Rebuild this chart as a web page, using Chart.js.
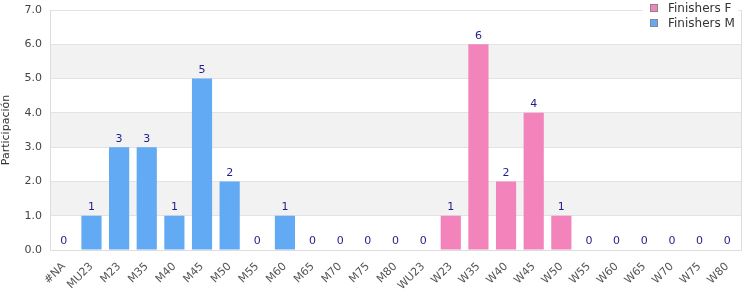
<!DOCTYPE html>
<html><head><meta charset="utf-8">
<script src="https://cdn.jsdelivr.net/npm/chart.js@4/dist/chart.umd.min.js"></script>
<style>
html,body{margin:0;padding:0;background:#fff;font-family:"DejaVu Sans","Bitstream Vera Sans","Noto Sans",sans-serif;}
#wrap{position:relative;width:750px;height:300px;}
#legend{position:absolute;left:643px;top:0;width:95px;height:13px;background:#fff;font-family:"DejaVu Sans","Bitstream Vera Sans","Noto Sans",sans-serif;font-size:12px;color:#333;}
.li{position:absolute;left:7px;height:14px;line-height:14px;white-space:nowrap;}
.sw{display:inline-block;width:6px;height:6px;border:1px solid #888;vertical-align:middle;margin-right:10px;position:relative;top:-1px;}
</style></head><body>
<div id="wrap"><canvas id="c" width="750" height="300"></canvas>
<div id="legend">
<div class="li" style="top:1px"><span class="sw" style="background:#f283bb"></span>Finishers F</div>
<div class="li" style="top:16px"><span class="sw" style="background:#62aaf3"></span>Finishers M</div>
</div></div>
<script>
const categories = ["#NA","MU23","M23","M35","M40","M45","M50","M55","M60","M65","M70","M75","M80","WU23","W23","W35","W40","W45","W50","W55","W60","W65","W70","W75","W80"];
const finishersM = [0,1,3,3,1,5,2,0,1,0,0,0,0,null,null,null,null,null,null,null,null,null,null,null,null];
const finishersF = [null,null,null,null,null,null,null,null,null,null,null,null,null,0,1,6,2,4,1,0,0,0,0,0,0];
const yTicks = [0,1,2,3,4,5,6,7];

const FAMILY = '"DejaVu Sans", "Bitstream Vera Sans", "Noto Sans", sans-serif';
Chart.defaults.font.family = FAMILY;

const bandsPlugin = {
  id:'bands',
  beforeDraw(chart){
    const {ctx, chartArea:a, scales:{y}} = chart;
    ctx.save();
    ctx.fillStyle = '#f2f2f2';
    for (let i=1;i<yTicks.length-1;i+=2){
      const t = y.getPixelForValue(yTicks[i+1]), b = y.getPixelForValue(yTicks[i]);
      ctx.fillRect(a.left, t, a.right-a.left, b-t);
    }
    ctx.restore();
  },
  afterDraw(chart){
    const {ctx, chartArea:a} = chart;
    ctx.save();
    ctx.strokeStyle = '#dddddd'; ctx.lineWidth = 1;
    ctx.beginPath(); ctx.moveTo(Math.round(a.right)+0.5, a.top); ctx.lineTo(Math.round(a.right)+0.5, a.bottom); ctx.stroke();
    ctx.font = '11px ' + FAMILY;
    ctx.fillStyle = '#1f1f8a';
    ctx.textAlign = 'center'; ctx.textBaseline = 'bottom';
    chart.data.datasets.forEach((ds, di) => {
      const meta = chart.getDatasetMeta(di);
      meta.data.forEach((el, i) => {
        const v = ds.data[i];
        if (v === null || v === undefined) return;
        ctx.fillText(String(v), el.x, el.y - 3);
      });
    });
    ctx.restore();
  }
};

new Chart(document.getElementById('c'), {
  type:'bar',
  data:{
    labels: categories,
    datasets:[
      {label:'Finishers F', data:finishersF, backgroundColor:'#f283bb', barPercentage:0.73, categoryPercentage:1},
      {label:'Finishers M', data:finishersM, backgroundColor:'#62aaf3', barPercentage:0.73, categoryPercentage:1}
    ]
  },
  options:{
    responsive:false, animation:false,
    layout:{padding:{top:10,right:9,left:0,bottom:0}},
    plugins:{legend:{display:false}, tooltip:{enabled:false}},
    scales:{
      x:{stacked:true,
         grid:{display:false},
         border:{color:'#dddddd'},
         ticks:{color:'#555',font:{family:FAMILY,size:11},maxRotation:45,minRotation:45,autoSkip:false,padding:2},
         afterFit(s){ s.height = 50; s.paddingLeft = 0; s.paddingRight = 0; }},
      y:{stacked:true, min:0, max:7,
         grid:{color:'#e3e3e3', drawTicks:false},
         border:{color:'#dddddd'},
         ticks:{stepSize:1,color:'#444',font:{family:FAMILY,size:11},padding:8,callback:v=>Number(v).toFixed(1)},
         title:{display:true,text:'Participación',color:'#333',font:{family:FAMILY,size:11},padding:{top:0,bottom:4}},
         afterFit(s){ s.width = 50; s.paddingTop = 0; s.paddingBottom = 0; }}
    }
  },
  plugins:[bandsPlugin]
});
</script></body></html>
